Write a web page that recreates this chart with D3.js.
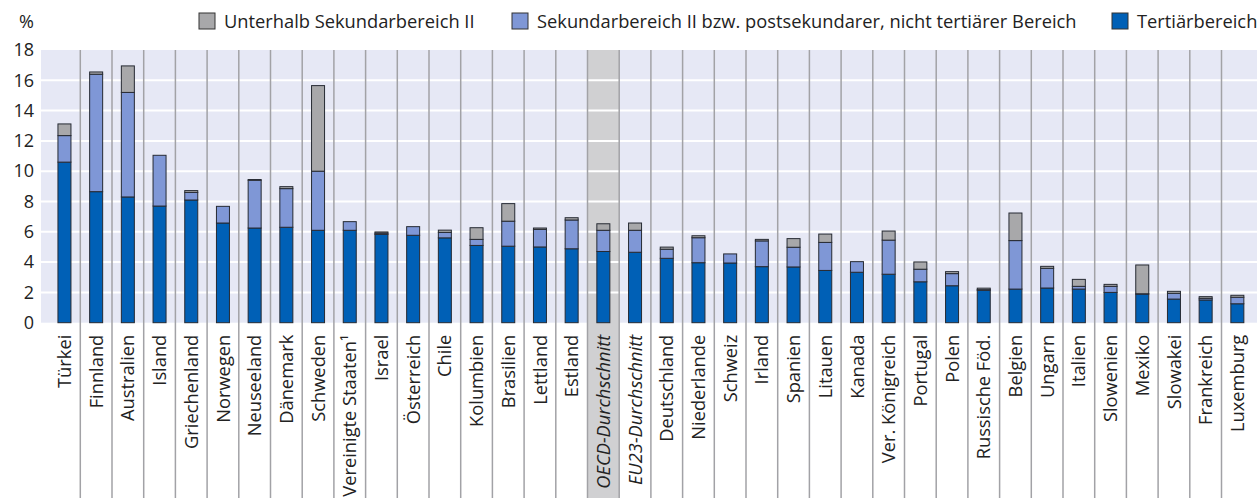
<!DOCTYPE html>
<html>
<head>
<meta charset="utf-8">
<script src="https://cdn.jsdelivr.net/npm/d3@7"></script>
<style>
  html, body { margin: 0; padding: 0; background: #fff; }
  svg { display: block; font-family: "Open Sans", "Noto Sans", sans-serif; }
</style>
</head>
<body>
<svg id="chart" width="1257" height="498"></svg>
<script>
// Countries / averages, in display order
const categories = ["Türkei", "Finnland", "Australien", "Island", "Griechenland", "Norwegen", "Neuseeland",
  "Dänemark", "Schweden", "Vereinigte Staaten¹", "Israel", "Österreich", "Chile", "Kolumbien", "Brasilien",
  "Lettland", "Estland", "OECD-Durchschnitt", "EU23-Durchschnitt", "Deutschland", "Niederlande", "Schweiz",
  "Irland", "Spanien", "Litauen", "Kanada", "Ver. Königreich", "Portugal", "Polen", "Russische Föd.",
  "Belgien", "Ungarn", "Italien", "Slowenien", "Mexiko", "Slowakei", "Frankreich", "Luxemburg"];

// Share (%) by highest level of educational attainment
const tertiary = [10.6, 8.65, 8.3, 7.7, 8.1, 6.58, 6.25, 6.3, 6.1, 6.1, 5.83, 5.77, 5.6, 5.1, 5.05,
  5.0, 4.88, 4.7, 4.65, 4.25, 3.96, 3.94, 3.7, 3.68, 3.45, 3.33, 3.2, 2.7, 2.44, 2.14,
  2.22, 2.29, 2.22, 2.0, 1.89, 1.56, 1.5, 1.25];
const upperSecondary = [1.75, 7.75, 6.9, 3.35, 0.5, 1.1, 3.15, 2.55, 3.9, 0.57, 0.08, 0.57, 0.36, 0.4, 1.65,
  1.16, 1.9, 1.4, 1.45, 0.6, 1.65, 0.6, 1.7, 1.3, 1.85, 0.7, 2.25, 0.83, 0.8, 0.04,
  3.2, 1.3, 0.18, 0.4, 0.02, 0.38, 0.11, 0.43];
const belowUpperSecondary = [0.77, 0.15, 1.75, 0.0, 0.12, 0.0, 0.05, 0.13, 5.65, 0.0, 0.08, 0.0, 0.15, 0.77, 1.16,
  0.09, 0.15, 0.43, 0.48, 0.14, 0.13, 0.0, 0.1, 0.57, 0.55, 0.0, 0.6, 0.48, 0.13, 0.1,
  1.82, 0.13, 0.46, 0.13, 1.9, 0.13, 0.11, 0.13];

const yTicks = [0, 2, 4, 6, 8, 10, 12, 14, 16, 18];
const averages = ["OECD-Durchschnitt", "EU23-Durchschnitt"];

const seriesKeys = ["tertiary", "upperSecondary", "belowUpperSecondary"];
const seriesNames = {
  belowUpperSecondary: "Unterhalb Sekundarbereich II",
  upperSecondary: "Sekundarbereich II bzw. postsekundarer, nicht tertiärer Bereich",
  tertiary: "Tertiärbereich"
};
const colors = {
  tertiary: "#0060b6",
  upperSecondary: "#7f97d6",
  belowUpperSecondary: "#a8a8aa"
};

const rows = categories.map((c, i) => ({
  name: c,
  tertiary: tertiary[i],
  upperSecondary: upperSecondary[i],
  belowUpperSecondary: belowUpperSecondary[i]
}));

const W = 1257, H = 498;
const plotLeft = 41, plotRight = 1257, plotTop = 50, plotBottom = 322.7;
const svg = d3.select("#chart");

const x = d3.scaleBand().domain(categories).range([48.6, 1253.2]).padding(0);
const y = d3.scaleLinear().domain([0, 18]).range([plotBottom, plotTop]);
const barW = 13;

// plot background
svg.append("rect")
  .attr("x", plotLeft).attr("y", plotTop)
  .attr("width", plotRight - plotLeft).attr("height", plotBottom - plotTop)
  .attr("fill", "#e6e8f5");

// highlight column for the OECD average
svg.append("rect")
  .attr("x", x("OECD-Durchschnitt")).attr("y", plotTop)
  .attr("width", x.bandwidth()).attr("height", H - plotTop)
  .attr("fill", "#d0d0d2");

// horizontal gridlines
svg.append("g").selectAll("line")
  .data(yTicks.filter(t => t > 0 && t < 18))
  .join("line")
  .attr("x1", plotLeft).attr("x2", plotRight)
  .attr("y1", d => y(d)).attr("y2", d => y(d))
  .attr("stroke", "#fff").attr("stroke-width", 2);

// column separators
svg.append("g").selectAll("line")
  .data(categories.slice(1))
  .join("line")
  .attr("x1", d => x(d)).attr("x2", d => x(d))
  .attr("y1", plotTop).attr("y2", H)
  .attr("stroke", "#a2a2a6").attr("stroke-width", 1.5);

// y axis labels
const yAxis = d3.axisLeft(y).tickValues(yTicks).tickSize(0).tickPadding(0);
const yg = svg.append("g").attr("transform", "translate(34,0)").call(yAxis);
yg.select(".domain").remove();
yg.selectAll("text")
  .attr("font-size", 18).attr("fill", "#222")
  .attr("font-family", "'Open Sans', sans-serif");

svg.append("text")
  .attr("x", 34).attr("y", 28).attr("text-anchor", "end")
  .attr("font-size", 18).attr("fill", "#222").text("%");

// stacked bars
const stack = d3.stack().keys(seriesKeys)(rows);
svg.append("g").selectAll("g")
  .data(stack)
  .join("g")
  .attr("fill", d => colors[d.key])
  .selectAll("rect")
  .data(d => d)
  .join("rect")
  .attr("x", d => x(d.data.name) + (x.bandwidth() - barW) / 2)
  .attr("width", barW)
  .attr("y", d => y(d[1]))
  .attr("height", d => Math.max(0, y(d[0]) - y(d[1])))
  .attr("stroke", "#262a33").attr("stroke-width", 1)
  .attr("stroke-opacity", d => (d[1] - d[0]) > 0.005 ? 1 : 0);

// category labels (rotated)
const xAxis = d3.axisBottom(x).tickSize(0).tickPadding(0);
const xg = svg.append("g").attr("transform", `translate(0,${plotBottom})`).call(xAxis);
xg.select(".domain").remove();
xg.selectAll("text")
  .attr("transform", "rotate(-90)")
  .attr("text-anchor", "end")
  .attr("x", -12).attr("y", 0).attr("dy", "0.36em")
  .attr("font-size", 18.3).attr("fill", "#222")
  .attr("font-family", "'Open Sans', sans-serif")
  .attr("font-style", d => averages.includes(d) ? "italic" : "normal");

// legend
const legendItems = [
  { key: "belowUpperSecondary", x: 199 },
  { key: "upperSecondary", x: 512 },
  { key: "tertiary", x: 1112 }
];
const lg = svg.append("g").selectAll("g").data(legendItems).join("g")
  .attr("transform", d => `translate(${d.x},13)`);
lg.append("rect")
  .attr("width", 16).attr("height", 16)
  .attr("fill", d => colors[d.key])
  .attr("stroke", "#333").attr("stroke-width", 1);
lg.append("text")
  .attr("x", 25).attr("y", 15)
  .attr("font-size", 18.3).attr("fill", "#222")
  .text(d => seriesNames[d.key]);
</script>
</body>
</html>
